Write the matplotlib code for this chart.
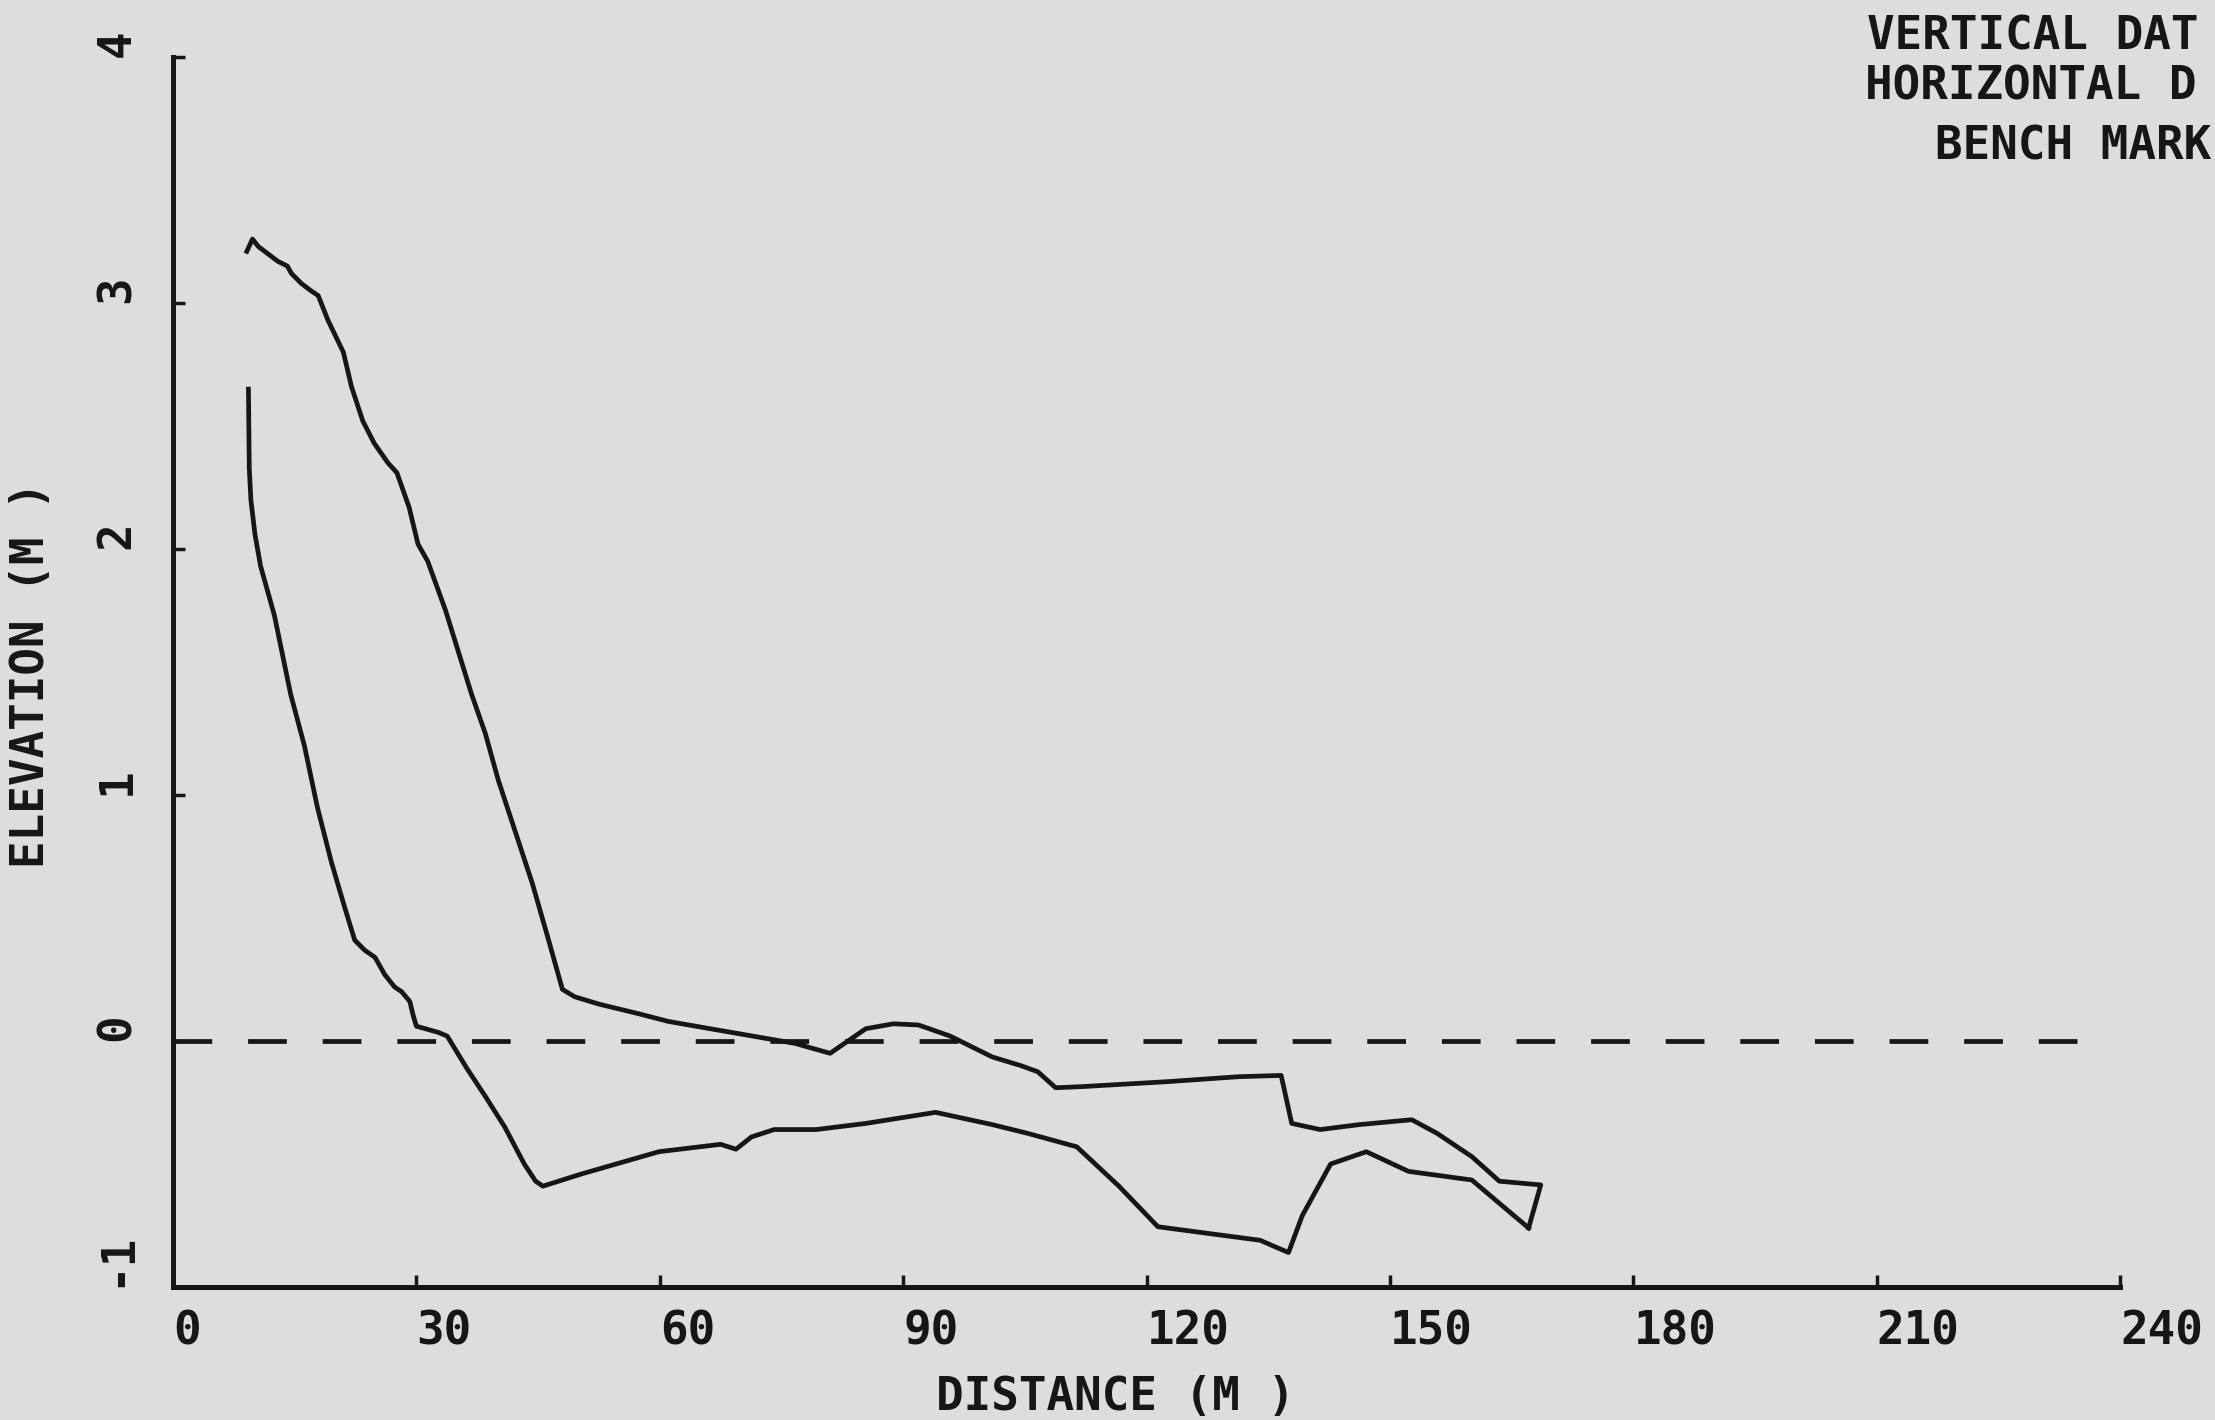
#!/usr/bin/env python3
import matplotlib
matplotlib.use("Agg")
import matplotlib.pyplot as plt

# GLOBALS
W, H, DPI = 2215, 1420, 100
INK = '#161616'
PAPER = '#dcdddf'
FONT = 'DejaVu Sans Mono'
FS = 33

# profile 1 (upper line), distance in m / elevation in m
dist_1 = [9.1, 9.8, 10.5, 11.7, 12.9, 14.1, 14.6, 15.8, 17.0, 17.9, 19.1, 21.0,
          22.0, 23.4, 24.8, 26.5, 27.6, 29.1, 30.2, 31.4, 33.6, 35.2, 36.8, 38.5,
          40.1, 42.2, 44.3, 46.3, 48.0, 49.5, 52.5, 57.5, 61.0, 66.2, 73.2, 76.7,
          81.0, 85.4, 88.8, 91.9, 95.8, 101.0, 104.5, 106.6, 108.8, 112.3, 122.7,
          131.4, 136.6, 137.9, 141.4, 146.2, 152.7, 155.8, 160.1, 163.5, 168.6, 167.1]
elev_1 = [3.21, 3.26, 3.23, 3.20, 3.17, 3.15, 3.12, 3.08, 3.05, 3.03, 2.93, 2.80,
          2.66, 2.52, 2.43, 2.35, 2.31, 2.17, 2.02, 1.95, 1.75, 1.58, 1.41, 1.25,
          1.06, 0.85, 0.64, 0.41, 0.21, 0.18, 0.15, 0.11, 0.08, 0.05, 0.01, -0.01,
          -0.05, 0.05, 0.07, 0.065, 0.02, -0.065, -0.10, -0.125, -0.19, -0.185, -0.165,
          -0.145, -0.14, -0.335, -0.36, -0.34, -0.32, -0.375, -0.47, -0.57, -0.585, -0.76]

# profile 2 (lower line)
dist_2 = [9.3, 9.4, 9.6, 10.1, 10.8, 12.5, 14.5, 16.2, 17.8, 19.5, 21.1, 22.4,
          23.6, 24.9, 26.1, 27.3, 28.2, 29.2, 29.6, 30.0, 31.1, 32.7, 33.8, 36.2,
          38.5, 40.9, 43.3, 44.7, 45.6, 50.4, 59.9, 67.5, 69.4, 71.3, 74.1, 79.3,
          85.4, 94.0, 101.0, 105.3, 111.4, 116.6, 121.4, 127.1, 134.0, 137.5, 139.2,
          142.7, 147.1, 152.3, 160.1, 165.3, 167.1]
elev_2 = [2.65, 2.33, 2.20, 2.06, 1.93, 1.73, 1.41, 1.20, 0.95, 0.73, 0.55, 0.41,
          0.37, 0.34, 0.27, 0.22, 0.20, 0.16, 0.105, 0.06, 0.05, 0.035, 0.02, -0.11,
          -0.225, -0.35, -0.50, -0.57, -0.59, -0.54, -0.45, -0.42, -0.44, -0.39, -0.36, -0.36,
          -0.335, -0.29, -0.34, -0.375, -0.43, -0.59, -0.755, -0.78, -0.81, -0.86, -0.71,
          -0.50, -0.45, -0.53, -0.565, -0.71, -0.76]

# datum line
datum_dist = [0, 236]
datum_elev = [0, 0]

x_ticks = [0, 30, 60, 90, 120, 150, 180, 210, 240]
y_ticks = [-1, 0, 1, 2, 3, 4]
# header block as far as it shows on the sheet (it runs off the right edge)
header = ["VERTICAL DAT", "HORIZONTAL D", "BENCH MARK"]


def px(x, y):
    """pixel position (from top left) -> figure fraction"""
    return x / W, 1 - y / H


fig = plt.figure(figsize=(W / DPI, H / DPI), dpi=DPI, facecolor=PAPER)
left, top = px(173, 57)
right, bottom = px(2120, 1287)
ax = fig.add_axes([left, bottom, right - left, top - bottom])
ax.set_facecolor(PAPER)

ax.plot(dist_1, elev_1, color=INK, lw=3.4, solid_joinstyle='round')
ax.plot(dist_2, elev_2, color=INK, lw=3.4, solid_joinstyle='round')
ax.plot(datum_dist, datum_elev, color=INK, lw=3.4, dashes=(8.2, 7.6), dash_capstyle='butt')

ax.set_xlim(0, 240)
ax.set_ylim(-1, 4)
for s in ['top', 'right']:
    ax.spines[s].set_visible(False)
for s in ['left', 'bottom']:
    ax.spines[s].set_linewidth(3.6)
    ax.spines[s].set_color(INK)

ax.set_xticks(x_ticks)
ax.set_yticks(y_ticks)
ax.set_xticklabels([str(t) for t in x_ticks], fontfamily=FONT, fontweight='bold',
                   fontsize=FS, color=INK, ha='left')
ax.set_yticklabels([str(t) for t in y_ticks], fontfamily=FONT, fontweight='bold',
                   fontsize=FS, color=INK, rotation=90, va='bottom', ha='right')
ax.tick_params(axis='both', direction='in', length=8.5, width=2.5, color=INK)
ax.tick_params(axis='x', pad=16)
ax.tick_params(axis='y', pad=24)

# axis titles placed by hand, like the original plotter output
x, y = px(936, 1410)
fig.text(x, y, "DISTANCE (M )", fontfamily=FONT, fontweight='bold', fontsize=FS,
         color=INK, ha='left', va='baseline')
x, y = px(32, 675)
fig.text(x, y, "ELEVATION (M )", fontfamily=FONT, fontweight='bold', fontsize=FS,
         color=INK, ha='center', va='center', rotation=90)

for txt, (hx, hy) in zip(header, [(1867, 50), (1865, 100), (1935, 160)]):
    x, y = px(hx, hy)
    fig.text(x, y, txt, fontfamily=FONT, fontweight='bold', fontsize=FS,
             color=INK, ha='left', va='baseline')

fig.savefig("out.png", dpi=DPI, facecolor=PAPER)
